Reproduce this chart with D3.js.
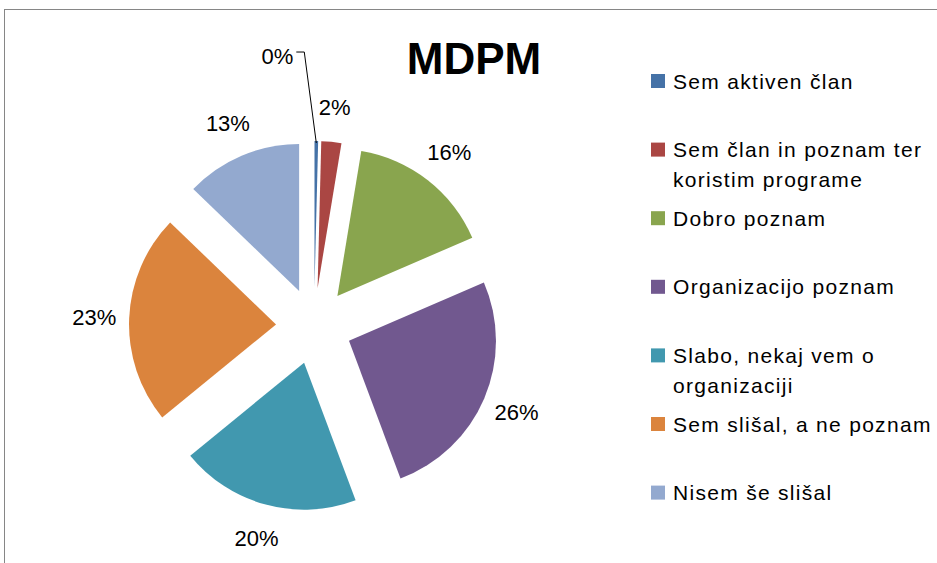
<!DOCTYPE html>
<html>
<head>
<meta charset="utf-8">
<script src="https://cdn.jsdelivr.net/npm/d3@7"></script>
<style>
  body { margin: 0; background: #fff; }
  svg { display: block; }
  text { font-family: "Liberation Sans", Arial, sans-serif; fill: #000; }
</style>
</head>
<body>
<div id="chart"></div>
<script>
var svgWidth = 937;
var svgHeight = 563;

// data (share of answers, %)
var categories = [
    "Sem aktiven član",
    "Sem član in poznam ter koristim programe",
    "Dobro poznam",
    "Organizacijo poznam",
    "Slabo, nekaj vem o organizaciji",
    "Sem slišal, a ne poznam",
    "Nisem še slišal"
];
var shares = [0.4, 2.2, 15.9, 25.8, 19.8, 23.1, 12.8];
var colors = ["#4572A7", "#AA4643", "#89A54E", "#71588F", "#4198AF", "#DB843D", "#93A9CF"];
var title = "MDPM";

// layout
var center = { x: 314, y: 326 };
var radius = 147;
var explode = 38;
var labelRadius = 220;

var svg = d3.select("#chart")
    .append("svg")
    .attr("width", svgWidth)
    .attr("height", svgHeight);

// chart frame (runs off the right and bottom edge)
svg.append("rect")
    .attr("x", 4.5)
    .attr("y", 9.5)
    .attr("width", 1200)
    .attr("height", 1200)
    .attr("fill", "none")
    .attr("stroke", "#868686")
    .attr("stroke-width", 1);

svg.append("text")
    .attr("x", 474)
    .attr("y", 74)
    .attr("text-anchor", "middle")
    .style("font-size", "44px")
    .style("font-weight", "bold")
    .text(title);

var total = d3.sum(shares);
var pie = d3.pie().sort(null).value(d => d);
var arcs = pie(shares);

var arc = d3.arc().innerRadius(0).outerRadius(radius);
var labelArc = d3.arc().innerRadius(labelRadius).outerRadius(labelRadius);

var pieGroup = svg.append("g")
    .attr("transform", `translate(${center.x},${center.y})`);

function mid(d) { return (d.startAngle + d.endAngle) / 2; }

// exploded slices
pieGroup.selectAll("path")
    .data(arcs)
    .enter()
    .append("path")
    .attr("d", arc)
    .attr("fill", (d, i) => colors[i])
    .attr("transform", d => {
        var a = mid(d);
        return `translate(${explode * Math.sin(a)},${-explode * Math.cos(a)})`;
    });

// percentage labels
arcs.forEach(function(d, i) {
    var pct = Math.round(d.value / total * 100) + "%";
    var a = mid(d);
    if (d.value < 1) {
        // tiny slice: label pulled out with a leader line
        var lx = (labelRadius + 50) * Math.sin(a) - 40;
        var ly = -(labelRadius + 50) * Math.cos(a);
        var t = pieGroup.append("text")
            .attr("x", lx)
            .attr("y", ly)
            .attr("dy", "0.35em")
            .attr("text-anchor", "middle")
            .style("font-size", "22px")
            .text(pct);
        var w = t.node().getComputedTextLength();
        var tipR = explode + radius - 2;
        pieGroup.append("polyline")
            .attr("points", [
                [lx + w / 2 + 3, ly - 4],
                [lx + w / 2 + 11, ly - 4],
                [tipR * Math.sin(a), -tipR * Math.cos(a)]
            ].join(" "))
            .attr("fill", "none")
            .attr("stroke", "#000")
            .attr("stroke-width", 1);
    } else {
        var c = labelArc.centroid(d);
        pieGroup.append("text")
            .attr("x", c[0])
            .attr("y", c[1])
            .attr("dy", "0.35em")
            .attr("text-anchor", "middle")
            .style("font-size", "22px")
            .text(pct);
    }
});

// legend
var legend = svg.append("g").attr("transform", "translate(651,81)");
var rowStep = 68.6;
var wrapWidth = 275;

categories.forEach(function(name, i) {
    var row = legend.append("g").attr("transform", `translate(0,${i * rowStep})`);
    row.append("rect")
        .attr("x", 0)
        .attr("y", -7)
        .attr("width", 14)
        .attr("height", 14)
        .attr("fill", colors[i]);

    var text = row.append("text")
        .attr("x", 22)
        .attr("y", 7.5)
        .style("font-size", "21px")
        .style("letter-spacing", "1.3px");

    // wrap long names
    var words = name.split(" ");
    var line = [];
    var lineNo = 0;
    var tspan = text.append("tspan").attr("x", 22).attr("dy", 0);
    words.forEach(function(w) {
        line.push(w);
        tspan.text(line.join(" "));
        if (tspan.node().getComputedTextLength() > wrapWidth && line.length > 1) {
            line.pop();
            tspan.text(line.join(" "));
            line = [w];
            lineNo++;
            tspan = text.append("tspan").attr("x", 22).attr("dy", 30).text(w);
        }
    });
});
</script>
</body>
</html>
